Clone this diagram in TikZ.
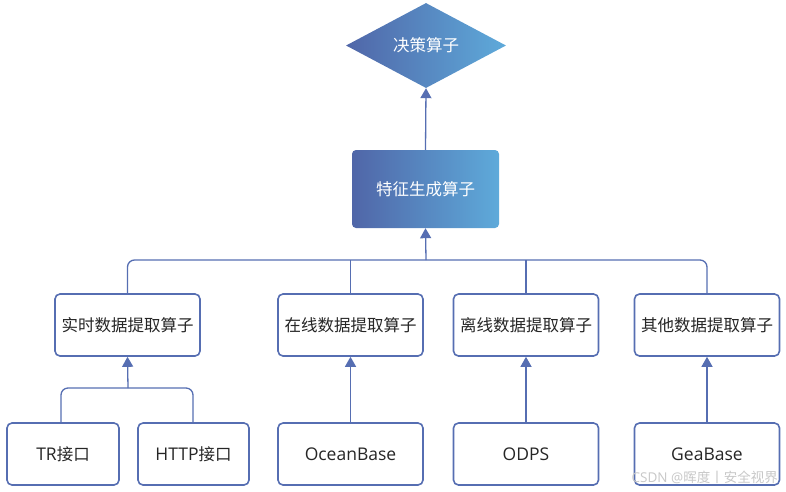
\documentclass[tikz,border=0pt]{standalone}
\usepackage{fontspec}
\setmainfont{Noto Sans CJK SC}
\newfontfamily\latf{Open Sans}
\usetikzlibrary{shapes.geometric,arrows.meta}
\definecolor{linec}{RGB}{86,110,178}
\definecolor{gradl}{RGB}{80,102,168}
\definecolor{gradr}{RGB}{94,170,218}
\definecolor{txt}{RGB}{38,38,38}
\definecolor{wm}{RGB}{200,200,200}
\newcommand{\lt}[1]{{\latf\fontsize{17.5}{18}\selectfont #1}}
\tikzset{
  conn/.style={draw=linec,line width=1.3pt},
  arr/.style={conn,-{Triangle[width=11pt,length=10pt]}},
  opbox/.style={draw=linec,line width=1.6pt,rounded corners=5pt,fill=white,
    minimum width=145pt,minimum height=62pt,inner sep=0pt,
    font=\fontsize{16.5}{18}\selectfont,text=txt},
  gradbox/.style={rounded corners=4pt,left color=gradl,right color=gradr,
    minimum width=147pt,minimum height=78pt,inner sep=0pt,
    font=\fontsize{16.5}{18}\selectfont,text=white},
  diam/.style={diamond,left color=gradl,right color=gradr,
    minimum width=160pt,minimum height=85pt,inner sep=0pt,
    font=\fontsize{16.5}{18}\selectfont,text=white},
}
\begin{document}
\begin{tikzpicture}[x=1pt,y=-1pt]
\useasboundingbox (0,0) rectangle (786,491);
\node[diam] (d) at (426,45.5) {决策算子};
\node[gradbox] (f) at (425.5,189) {特征生成算子};
\node[opbox] (m1) at (127.5,325) {实时数据提取算子};
\node[opbox] (m2) at (350.5,325) {在线数据提取算子};
\node[opbox] (m3) at (526,325) {离线数据提取算子};
\node[opbox] (m4) at (707,325) {其他数据提取算子};
\node[opbox,minimum width=112pt] (tr) at (63,454) {\lt{TR}接口};
\node[opbox,minimum width=111pt] (http) at (193.5,454) {\lt{HTTP}接口};
\node[opbox] (ob) at (350.5,454) {\lt{OceanBase}};
\node[opbox] (odps) at (526,454) {\lt{ODPS}};
\node[opbox] (gb) at (707,454) {\lt{GeaBase}};
\coordinate (bus) at (426,260);
\coordinate (mc) at (128,388);
\draw[arr] (f.north) -- (d.south);
\draw[arr] (bus) -- (f.south);
\draw[conn,rounded corners=7pt] (m1.north) |- (bus) -| (m4.north);
\draw[conn] (m2.north) -- (m2.north |- bus);
\draw[conn] (m3.north) -- (m3.north |- bus);
\draw[conn,rounded corners=7pt] (tr.north -| 61,0) |- (mc) -| (http.north -| 193,0);
\draw[arr] (mc) -- (m1.south);
\draw[arr] (ob.north) -- (m2.south);
\draw[arr] (odps.north) -- (m3.south);
\draw[arr] (gb.north) -- (m4.south);
\node[anchor=east,text=wm,font=\fontsize{13.5}{15}\selectfont,inner sep=0pt] (wmark) at (778,477) {{\latf CSDN @}晖度丨安全视界};
\end{tikzpicture}
\end{document}
